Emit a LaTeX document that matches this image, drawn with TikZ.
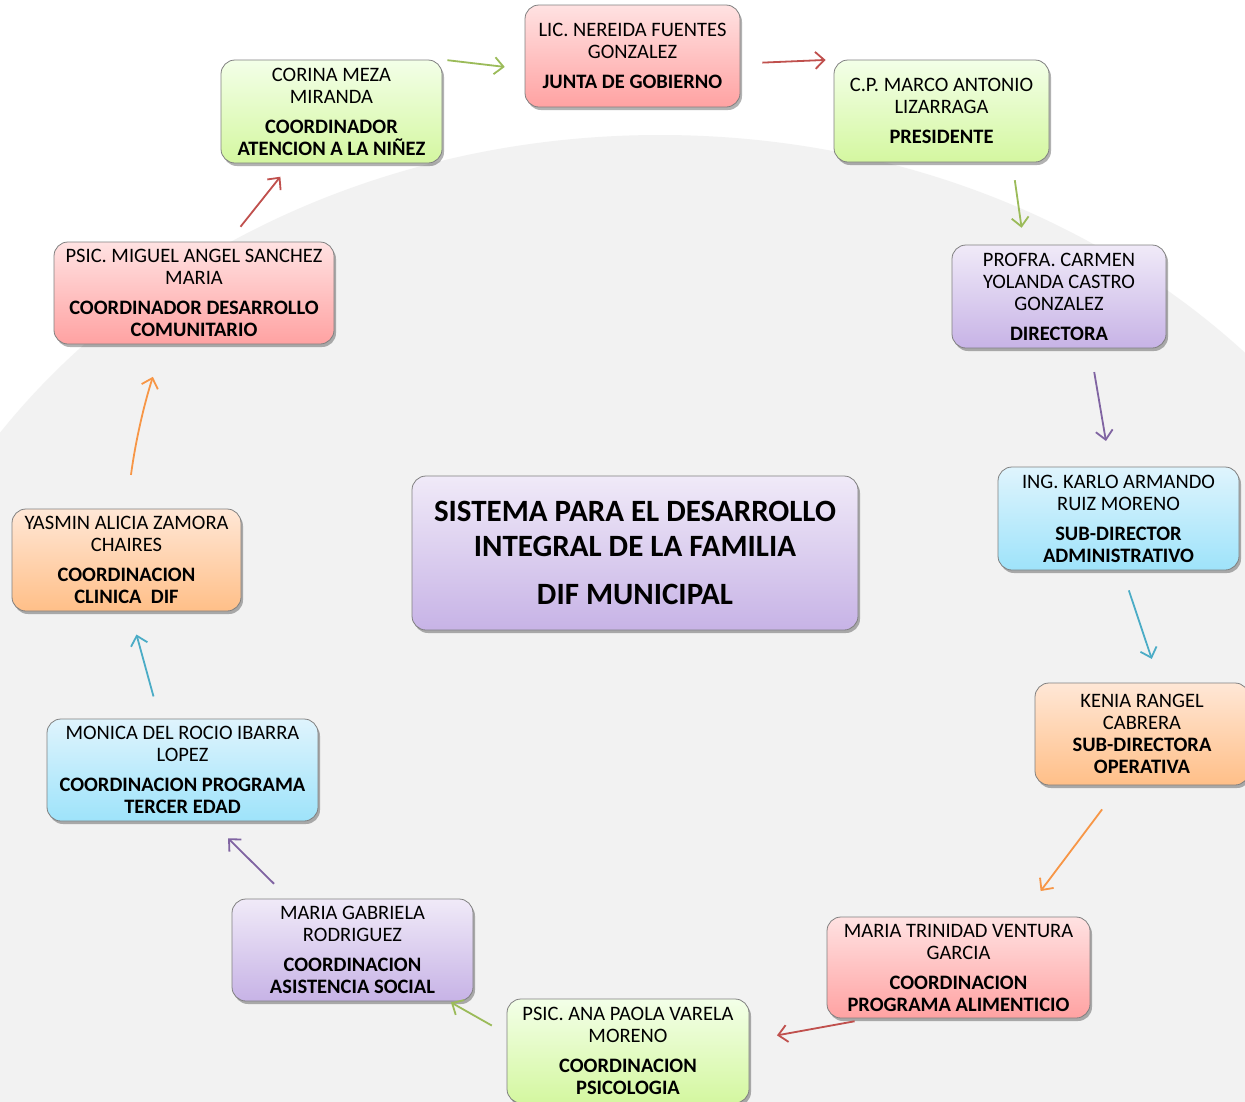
\documentclass[tikz,border=0pt]{standalone}
\usepackage{fontspec}
\setmainfont{Carlito}
\usetikzlibrary{arrows.meta,shadows}

% colores de las cajas
\definecolor{rojoA}{HTML}{C0504D}
\definecolor{rojoT}{HTML}{FFE2E2}
\definecolor{rojoB}{HTML}{FFA2A2}
\definecolor{verdeA}{HTML}{9BBB59}
\definecolor{verdeT}{HTML}{F3FFE8}
\definecolor{verdeB}{HTML}{D4F7A0}
\definecolor{moradoA}{HTML}{8064A2}
\definecolor{moradoT}{HTML}{F0EAF8}
\definecolor{moradoB}{HTML}{C7B3E6}
\definecolor{azulA}{HTML}{4BACC6}
\definecolor{azulT}{HTML}{DFF4FD}
\definecolor{azulB}{HTML}{9EE3FA}
\definecolor{naranjaA}{HTML}{F79646}
\definecolor{naranjaT}{HTML}{FFE7D6}
\definecolor{naranjaB}{HTML}{FFBF88}

\tikzset{
  caja/.style={rectangle, rounded corners=14pt, draw=black!50, line width=0.8pt,
    align=center, inner sep=2pt, font=\fontsize{20.5}{22}\selectfont,
    drop shadow={shadow xshift=2pt, shadow yshift=-3pt, opacity=0.3, fill=black}},
  rojo/.style={caja, top color=rojoT, bottom color=rojoB},
  verde/.style={caja, top color=verdeT, bottom color=verdeB},
  morado/.style={caja, top color=moradoT, bottom color=moradoB},
  azul/.style={caja, top color=azulT, bottom color=azulB},
  naranja/.style={caja, top color=naranjaT, bottom color=naranjaB},
  flecha/.style={line width=1.8pt, -{Straight Barb[length=9pt,width=17pt]}},
}

\begin{document}
\begin{tikzpicture}[x=1pt,y=-1pt]
% fondo
\fill[white] (0,0) rectangle (1245,1101);
\useasboundingbox (0,0) rectangle (1245,1101);
\fill[black!5] (660,820) ellipse [x radius=800, y radius=685];

% centro
\node[morado, minimum width=446, minimum height=154,
  font=\bfseries\fontsize{31}{35}\selectfont] (dif) at (635,553)
  {SISTEMA PARA EL DESARROLLO\\INTEGRAL DE LA FAMILIA\\[13pt]DIF MUNICIPAL};

% cajas
\node[rojo, minimum width=215, minimum height=102] (junta) at (632.5,56)
  {LIC. NEREIDA FUENTES\\GONZALEZ\\[8pt]\textbf{JUNTA DE GOBIERNO}};
\node[verde, minimum width=215, minimum height=102] (presidente) at (941.5,111)
  {C.P. MARCO ANTONIO\\LIZARRAGA\\[8pt]\textbf{PRESIDENTE}};
\node[morado, minimum width=214, minimum height=103] (directora) at (1059,296.5)
  {PROFRA. CARMEN\\YOLANDA CASTRO\\GONZALEZ\\[8pt]\textbf{DIRECTORA}};
\node[azul, minimum width=241, minimum height=103] (subadmin) at (1118.5,518.5)
  {ING. KARLO ARMANDO\\RUIZ MORENO\\[8pt]\textbf{SUB-DIRECTOR}\\\textbf{ADMINISTRATIVO}};
\node[naranja, minimum width=214, minimum height=102] (suboper) at (1142,734)
  {KENIA RANGEL\\CABRERA\\\textbf{SUB-DIRECTORA}\\\textbf{OPERATIVA}};
\node[rojo, minimum width=263, minimum height=101] (alimenticio) at (958.5,967.5)
  {MARIA TRINIDAD VENTURA\\GARCIA\\[8pt]\textbf{COORDINACION}\\\textbf{PROGRAMA ALIMENTICIO}};
\node[verde, minimum width=242, minimum height=104] (psicologia) at (628,1051)
  {PSIC. ANA PAOLA VARELA\\MORENO\\[8pt]\textbf{COORDINACION}\\\textbf{PSICOLOGIA}};
\node[morado, minimum width=241, minimum height=102] (asistencia) at (352.5,950)
  {MARIA GABRIELA\\RODRIGUEZ\\[8pt]\textbf{COORDINACION}\\\textbf{ASISTENCIA SOCIAL}};
\node[azul, minimum width=271, minimum height=102] (tercer) at (182.5,770)
  {MONICA DEL ROCIO IBARRA\\LOPEZ\\[8pt]\textbf{COORDINACION PROGRAMA}\\\textbf{TERCER EDAD}};
\node[naranja, minimum width=229, minimum height=102] (clinica) at (126.5,560)
  {YASMIN ALICIA ZAMORA\\CHAIRES\\[8pt]\textbf{COORDINACION}\\\textbf{CLINICA\ \ DIF}};
\node[rojo, minimum width=280, minimum height=102] (desarrollo) at (194,293)
  {PSIC. MIGUEL ANGEL SANCHEZ\\MARIA\\[8pt]\textbf{COORDINADOR DESARROLLO}\\\textbf{COMUNITARIO}};
\node[verde, minimum width=221, minimum height=103] (ninez) at (331.5,111.5)
  {CORINA MEZA\\MIRANDA\\[8pt]\textbf{COORDINADOR}\\\textbf{ATENCION A LA NIÑEZ}};

% flechas
\draw[flecha, verdeA, shorten <=5pt, shorten >=20pt] (ninez.north east) -- (junta.-173.6);
\draw[flecha, rojoA, shorten <=22pt, shorten >=8pt] (junta.-4) -- (presidente.north west);
\draw[flecha, verdeA, shorten <=18pt, shorten >=17pt] (presidente.-36.5) -- (directora.124);
\draw[flecha, moradoA, shorten <=24pt, shorten >=26pt] (directora.-59) -- (subadmin.99.4);
\draw[flecha, azulA, shorten <=21pt, shorten >=25pt] (subadmin.-86) -- (suboper.71.6);
\draw[flecha, naranjaA, shorten <=30pt, shorten >=32pt] (suboper.-113) -- (alimenticio.39.4);
\draw[flecha, rojoA, shorten <=16pt, shorten >=28pt] (alimenticio.-150) -- (psicologia.5.7);
\draw[flecha, verdeA, shorten <=17pt, shorten >=2pt] (psicologia.172) -- (asistencia.-28);
\draw[flecha, moradoA, shorten <=21pt, shorten >=24pt] (asistencia.141.2) -- (tercer.-61.7);
\draw[flecha, azulA, shorten <=23pt, shorten >=24pt] (tercer.114.7) -- (clinica.-86);
\draw[flecha, naranjaA, shorten <=34pt, shorten >=34pt] (clinica.north) to[bend left=5] (desarrollo.-121);
\draw[flecha, rojoA, shorten <=19pt, shorten >=17pt] (desarrollo.56.3) -- (ninez.-128.2);
\end{tikzpicture}
\end{document}
